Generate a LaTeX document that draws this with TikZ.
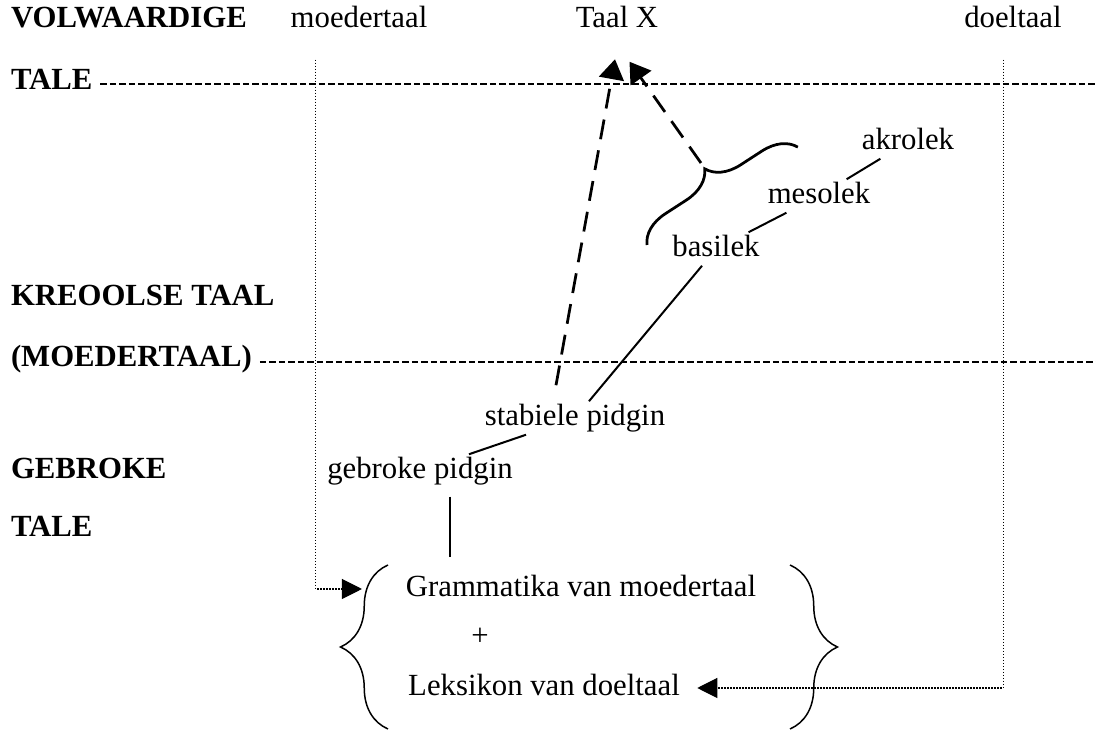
\documentclass[tikz,border=0pt]{standalone}
\usepackage{fontspec}
\setmainfont{Liberation Serif}
\usetikzlibrary{arrows.meta,decorations.pathreplacing}

\begin{document}
\begin{tikzpicture}[
        x=0.4pt, y=-0.4pt,
        every node/.style={inner sep=1pt, text height=8.5pt, text depth=2.5pt, font=\fontsize{12.3}{14}\selectfont},
        lvl/.style={anchor=west, font=\fontsize{12.3}{14}\selectfont\bfseries},
        conn/.style={line width=0.8pt},
        dashconn/.style={line width=1.1pt, dash pattern=on 8pt off 4.5pt, -{Triangle[length=8pt, width=10pt]}},
        grid/.style={line width=0.5pt, dash pattern=on 2.6pt off 1.2pt},
        dots/.style={line width=0.45pt, dash pattern=on 0.45pt off 0.75pt, -{Triangle[length=8pt, width=8pt]}},
        brc/.style={line width=0.6pt, decorate, decoration={brace, amplitude=19pt, aspect=0.5}}
    ]
    \useasboundingbox (0,0) rectangle (1096,732);

    % niveaus
    \node[lvl] (vol)   at (8,20)  {VOLWAARDIGE};
    \node[lvl] (tale1) at (8,82)  {TALE};
    \node[lvl] (kreo)  at (8,298) {KREOOLSE TAAL};
    \node[lvl] (moedb) at (8,359) {(MOEDERTAAL)};
    \node[lvl] (gebr)  at (8,471) {GEBROKE};
    \node[lvl] (tale2) at (8,529) {TALE};

    \node (moeder) at (359,20)  {moedertaal};
    \node (taalx)  at (617,20)  {Taal X};
    \node (doel)   at (1013,20) {doeltaal};
    \node (akro)   at (908,142) {akrolek};
    \node (meso)   at (819,196) {mesolek};
    \node (basi)   at (716,249) {basilek};
    \node (stab)   at (575,418) {stabiele pidgin};
    \node (gebp)   at (420,471) {gebroke pidgin};
    \node (gram)   at (581,589) {Grammatika van moedertaal};
    \node (plus)   at (480,638) {+};
    \node (leks)   at (544,688) {Leksikon van doeltaal};

    \coordinate (r1)   at (1096,84);
    \coordinate (r2)   at (1096,362);
    \coordinate (btip) at (701,163);

    \draw[grid, shorten <=2pt] (tale1.east |- r1) -- (r1);
    \draw[grid, shorten <=2pt] (moedb.east |- r2) -- (r2);

    % bronne
    \draw[dots, shorten <=9.2pt, shorten >=16.4pt] ([xshift=11.2pt]moeder.south west) |- (gram.west);
    \draw[dots, shorten <=9.2pt, shorten >=5.8pt] ([xshift=16.8pt]doel.south west) |- (leks.east);

    % ontwikkeling
    \draw[conn, shorten <=3.6pt, shorten >=6pt] ([xshift=12pt]gebp.south) -- ([xshift=12pt]gebp.south |- gram.north);
    \draw[conn] (gebp) -- (stab);
    \draw[conn] (stab) -- (basi);
    \draw[conn] (basi) -- (meso);
    \draw[conn] (meso) -- (akro);
    \draw[dashconn] ([xshift=-7.6pt,yshift=6.4pt]stab.north) -- ([xshift=-0.8pt,yshift=-9pt]taalx.south);
    \draw[dashconn] (btip) -- ([xshift=5pt,yshift=-10pt]taalx.south);

    % hakies
    \draw[brc] (388,729) -- (388,565);
    \draw[brc] (790,565) -- (790,729);
    \draw[brc, line width=1.1pt, decoration={amplitude=13pt}] (647,245) -- (798,147);
\end{tikzpicture}
\end{document}
